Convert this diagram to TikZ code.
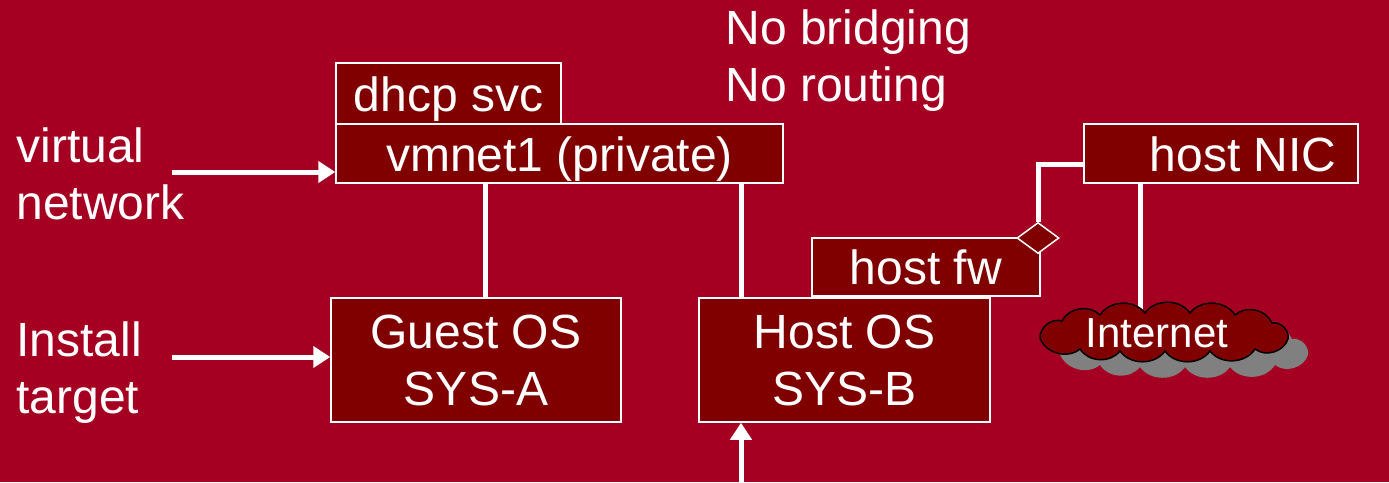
\documentclass[tikz,border=0pt]{standalone}
\usepackage{fontspec}
\setmainfont{Liberation Sans}
\usetikzlibrary{arrows.meta,shapes.geometric,calc}
\definecolor{bgred}{RGB}{165,0,33}
\definecolor{boxred}{RGB}{128,0,0}
\definecolor{shadowgray}{RGB}{128,128,128}
\tikzset{
  bigtext/.style={font=\fontsize{48}{57}\selectfont, text=white},
  boxnode/.style={bigtext, draw=white, line width=1.5pt, fill=boxred, inner sep=0pt, align=center},
  onetext/.style={text height=40pt, text depth=5pt},
  wire/.style={draw=white, line width=5pt},
  arrowline/.style={draw=white, line width=5pt, -{Triangle[length=17pt,width=21pt]}},
  puff/.style={bend left=55},
}
\newcommand{\cloudoutline}{%
  (1040,338) to[puff] (1062,321) to[puff] (1100,315) to[puff] (1145,313)
  to[puff] (1190,313) to[puff] (1235,315) to[puff] (1272,323) to[puff] (1288,339)
  to[puff] (1255,349) to[puff] (1210,351) to[puff] (1165,351) to[puff] (1120,351)
  to[puff] (1080,349) to[puff] cycle}
\begin{document}
\begin{tikzpicture}[x=1pt,y=-1pt]
\useasboundingbox (0,0) rectangle (1389,482);
\fill[bgred] (0,0) rectangle (1389,482);

% labels
\node[bigtext, anchor=west, align=left] (vnet) at (13,174) {virtual\\network};
\node[bigtext, anchor=west, align=left] (inst) at (13,373) {Install\\target};
\node[bigtext, anchor=west, align=left] (nob) at (722,61) {No bridging\\No routing};

% boxes
\node[boxnode, onetext, minimum width=225pt, minimum height=61pt] (dhcp) at (448.5,93.5) {dhcp svc};
\node[boxnode, onetext, minimum width=447pt, minimum height=59pt] (vmnet) at (559.5,153.5) {vmnet1 (private)};
\node[boxnode, minimum width=290pt, minimum height=124pt] (guest) at (476,360) {Guest OS\\SYS-A};
\node[boxnode, minimum width=291pt, minimum height=124pt] (host) at (844.5,360) {Host OS\\SYS-B};
\node[boxnode, onetext, minimum width=228pt, minimum height=58pt] (fw) at (926,267) {host fw};
\node[boxnode, onetext, minimum width=274pt, minimum height=59pt] (nic) at (1221,153.5) {\hspace*{44pt}host NIC};

% helper coordinates
\coordinate (la) at (485,0);
\coordinate (lb) at (741,0);
\coordinate (lc) at (1140,0);
\coordinate (bot) at (741,482);
\coordinate (kink) at (1084,164);
\coordinate (va) at (172,172);
\coordinate (ia) at (172,357);
\coordinate (ctop) at (1140,314);

% wires
\draw[wire] (vmnet.south -| la) -- (guest.north -| la);
\draw[wire] (vmnet.south -| lb) -- (host.north -| lb);

% arrows
\draw[arrowline] (va) -- (va -| vmnet.west);
\draw[arrowline] (ia) -- (ia -| guest.west);
\draw[arrowline] (bot) -- (bot |- host.south);

% diamond and link to NIC
\node[diamond, draw=white, line width=1.5pt, fill=boxred, minimum width=42pt, minimum height=31pt, inner sep=0pt] (dia) at (1038,238) {};
\draw[wire] (dia.north) |- (kink);

% cloud
\draw[wire] (nic.south -| lc) -- (ctop);
\fill[shadowgray, shift={(20,16)}] \cloudoutline;
\draw[black, line width=1.5pt, fill=boxred] \cloudoutline;
\node[bigtext, font=\fontsize{42}{48}\selectfont] (nettext) at (1157,333) {Internet};
\end{tikzpicture}
\end{document}
